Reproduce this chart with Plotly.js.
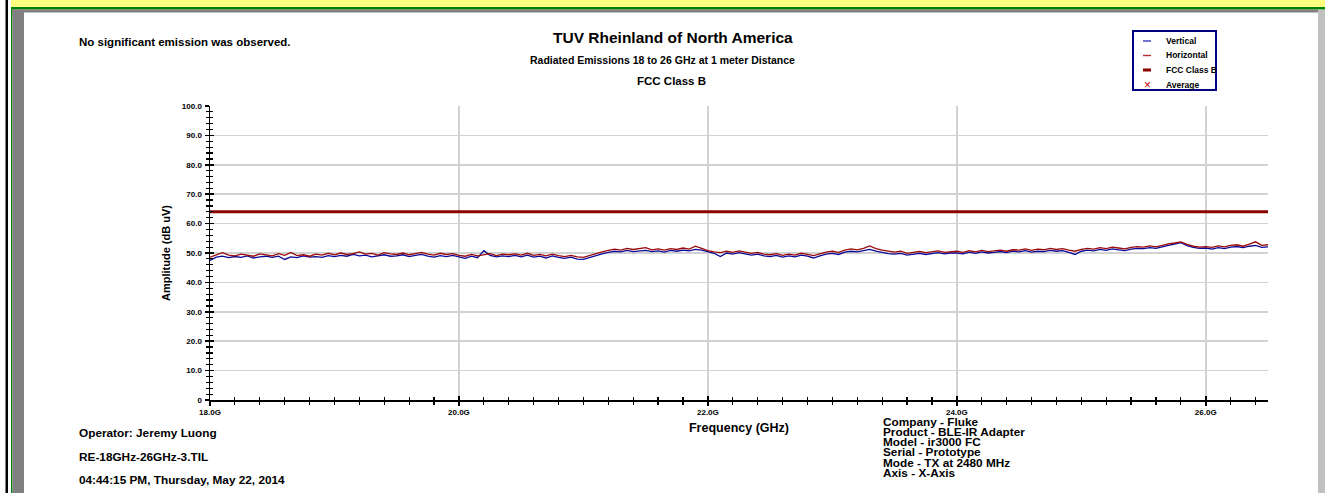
<!DOCTYPE html>
<html><head><meta charset="utf-8">
<script src="https://cdn.plot.ly/plotly-3.0.1.min.js"></script>
<style>html,body{margin:0;padding:0;background:#fff;}#chart{width:1325px;height:493px;}</style>
</head><body><div id="chart"></div>
<script>
// ---------------- data ----------------
const frequencyGHz = [
18.00,18.05,18.10,18.15,18.20,18.25,18.30,18.35,18.40,18.45,
18.50,18.55,18.60,18.65,18.70,18.75,18.80,18.85,18.90,18.95,
19.00,19.05,19.10,19.15,19.20,19.25,19.30,19.35,19.40,19.45,
19.50,19.55,19.60,19.65,19.70,19.75,19.80,19.85,19.90,19.95,
20.00,20.05,20.10,20.15,20.20,20.25,20.30,20.35,20.40,20.45,
20.50,20.55,20.60,20.65,20.70,20.75,20.80,20.85,20.90,20.95,
21.00,21.05,21.10,21.15,21.20,21.25,21.30,21.35,21.40,21.45,
21.50,21.55,21.60,21.65,21.70,21.75,21.80,21.85,21.90,21.95,
22.00,22.05,22.10,22.15,22.20,22.25,22.30,22.35,22.40,22.45,
22.50,22.55,22.60,22.65,22.70,22.75,22.80,22.85,22.90,22.95,
23.00,23.05,23.10,23.15,23.20,23.25,23.30,23.35,23.40,23.45,
23.50,23.55,23.60,23.65,23.70,23.75,23.80,23.85,23.90,23.95,
24.00,24.05,24.10,24.15,24.20,24.25,24.30,24.35,24.40,24.45,
24.50,24.55,24.60,24.65,24.70,24.75,24.80,24.85,24.90,24.95,
25.00,25.05,25.10,25.15,25.20,25.25,25.30,25.35,25.40,25.45,
25.50,25.55,25.60,25.65,25.70,25.75,25.80,25.85,25.90,25.95,
26.00,26.05,26.10,26.15,26.20,26.25,26.30,26.35,26.40,26.45,
26.50];

const horizontalDbuV = [
48.6,49.4,50.1,49.3,49.0,49.6,49.2,48.9,49.7,49.3,
49.0,49.8,49.2,50.2,49.1,49.4,48.9,49.6,49.3,49.9,
49.4,50.0,49.5,49.8,50.4,49.6,49.9,49.3,50.1,49.7,
49.5,50.0,49.4,49.8,50.2,49.6,49.3,49.9,49.5,49.8,
49.2,48.9,49.5,49.0,49.3,49.8,49.1,49.6,49.4,49.7,
49.3,49.9,49.2,49.5,49.0,49.6,49.1,48.8,49.2,48.7,
48.5,49.2,49.8,50.4,50.9,51.3,51.0,51.6,51.2,51.5,
51.8,51.1,51.4,51.0,51.5,51.2,51.7,51.3,52.3,51.6,
50.8,50.4,50.1,50.6,50.2,50.7,50.3,49.9,50.2,49.6,
49.4,49.8,49.2,49.6,49.3,49.9,49.5,49.1,49.7,50.3,
50.6,50.2,51.0,51.4,51.1,51.6,52.4,51.5,51.0,50.7,
50.3,50.6,49.9,50.2,50.5,50.1,50.4,50.7,50.2,50.5,
50.6,50.2,50.8,50.4,50.9,50.5,50.7,51.0,50.6,51.1,
51.0,51.4,50.9,51.3,51.1,51.6,51.2,51.5,51.0,50.6,
51.2,51.6,51.3,51.8,51.5,52.0,51.7,51.4,51.9,52.2,
52.0,52.4,52.1,52.7,53.1,53.4,53.8,52.9,52.3,52.0,
52.2,51.9,52.4,52.1,52.6,52.8,52.3,53.0,53.8,52.6,
52.8];

const verticalDbuV = [
47.5,48.6,48.9,48.4,48.8,48.5,49.0,48.3,48.7,48.9,
48.5,48.9,47.8,48.7,48.4,49.0,48.6,48.8,48.5,49.1,
48.8,49.2,48.9,49.5,49.0,49.3,48.7,49.1,49.4,48.9,
49.0,49.4,48.8,49.2,49.5,48.9,48.6,49.1,48.8,49.2,
48.6,48.2,48.9,48.4,50.8,49.2,48.7,49.0,48.8,49.2,
48.7,49.3,48.6,48.9,48.3,49.0,48.5,48.2,48.6,47.9,
47.8,48.5,49.1,49.7,50.2,50.6,50.4,50.9,50.5,50.8,
50.9,50.5,50.7,50.3,50.9,50.6,51.0,50.7,51.2,51.0,
50.5,49.9,48.8,50.0,49.6,50.1,49.7,49.3,49.6,49.0,
48.8,49.2,48.6,49.0,48.7,49.3,48.9,48.3,49.0,49.6,
49.9,49.5,50.3,50.6,50.4,50.8,51.2,50.6,50.1,49.8,
49.6,49.9,49.3,49.7,49.9,49.5,49.8,50.1,49.7,50.0,
50.0,49.7,50.3,49.9,50.4,50.0,50.2,50.5,50.1,50.6,
50.4,50.8,50.3,50.6,50.5,50.9,50.6,50.8,50.2,49.5,
50.6,51.0,50.7,51.2,50.9,51.4,51.1,50.8,51.3,51.6,
51.5,51.8,51.6,52.2,52.6,53.0,53.5,52.5,51.9,51.6,
51.7,51.3,51.8,51.5,52.0,52.2,51.8,52.3,52.6,51.9,
52.1];

const limitFreqGHz = [18.0, 26.5];
const fccClassBLimit = [64.0, 64.0];

const xTickVals = [18, 20, 22, 24, 26];
const xTickText = ['18.0G', '20.0G', '22.0G', '24.0G', '26.0G'];
const yTickVals = [0, 10, 20, 30, 40, 50, 60, 70, 80, 90, 100];
const yTickText = ['0', '10.0', '20.0', '30.0', '40.0', '50.0', '60.0', '70.0', '80.0', '90.0', '100.0'];

const seriesNames = ['Vertical', 'Horizontal', 'FCC Class B', 'Average'];
const titleLines = ['TUV Rheinland of North America', 'Radiated Emissions 18 to 26 GHz at 1 meter Distance', 'FCC Class B'];
const noteText = 'No significant emission was observed.';
const footerLeft = ['Operator: Jeremy Luong', 'RE-18GHz-26GHz-3.TIL', '04:44:15 PM, Thursday, May 22, 2014'];
const footerRight = ['Company - Fluke', 'Product - BLE-IR Adapter', 'Model - ir3000 FC', 'Serial - Prototype', 'Mode - TX at 2480 MHz', 'Axis - X-Axis'];
const xAxisTitle = 'Frequency (GHz)';
const yAxisTitle = 'Amplitude (dB uV)';

// ---------------- geometry helpers (pixels -> paper) ----------------
const W = 1325, H = 493, PL = 210, PR = 1268, PT = 106, PB = 400;
const px = x => (x - PL) / (PR - PL);
const py = y => (PB - y) / (PB - PT);
const FONT = 'Arial, "Liberation Sans", sans-serif';

const C_V = '#0a0a9a', C_H = '#9a0a0a', C_LIM = '#8b0000';

const traces = [
  {x: frequencyGHz, y: verticalDbuV, name: seriesNames[0], type: 'scatter', mode: 'lines',
   line: {color: C_V, width: 1.3}, hoverinfo: 'x+y'},
  {x: frequencyGHz, y: horizontalDbuV, name: seriesNames[1], type: 'scatter', mode: 'lines',
   line: {color: C_H, width: 1.3}, hoverinfo: 'x+y'},
  {x: limitFreqGHz, y: fccClassBLimit, name: seriesNames[2], type: 'scatter', mode: 'lines',
   line: {color: C_LIM, width: 3}},
  // empty trace carrying the overlay axes used for inward tick halves
  {x: [], y: [], xaxis: 'x2', yaxis: 'y2', showlegend: false, hoverinfo: 'skip', type: 'scatter'}
];

const rect = (x0, y0, x1, y1, fill, extra) => Object.assign({type: 'rect', xref: 'paper', yref: 'paper',
  x0: px(x0), x1: px(x1), y0: py(y0), y1: py(y1), fillcolor: fill, line: {width: 0}, layer: 'above'}, extra || {});
const hline = (x0, x1, y, color, width) => ({type: 'line', xref: 'paper', yref: 'paper',
  x0: px(x0), x1: px(x1), y0: py(y), y1: py(y), line: {color: color, width: width}, layer: 'above'});

const shapes = [
  rect(11, 0, 1325, 7, '#ffff80'),
  rect(11, 7, 1325, 9.5, '#008000'),
  rect(11, 7, 12.5, 493, '#008000'),
  rect(12.5, 9.5, 1318, 12.5, '#808080'),
  rect(12.5, 9.5, 24, 493, '#808080'),
  rect(1318, 10, 1325, 493, '#c0c0c0'),
  rect(5.5, 0, 8, 493, '#000000'),
  // legend box
  rect(1133, 31, 1216, 90, 'rgba(255,255,255,0)', {line: {color: '#000080', width: 2}}),
  hline(1143, 1151, 41, '#3535b5', 1.4),
  hline(1143, 1151, 55.5, '#b03535', 1.4),
  hline(1143, 1151, 70, C_LIM, 3)
];

const ann = (text, x, y, size, xanchor, extra) => Object.assign({text: '<b>' + text + '</b>', xref: 'paper', yref: 'paper',
  x: px(x), y: py(y), xanchor: xanchor || 'center', yanchor: 'middle', showarrow: false,
  font: {family: FONT, size: size, color: '#000'}}, extra || {});

const annotations = [
  ann(titleLines[0], 673, 38, 15.5, 'center'),
  ann(titleLines[1], 662, 60, 10.5, 'center'),
  ann(titleLines[2], 671, 81, 11.5, 'center'),
  ann(noteText, 77, 42, 11.5, 'left'),
  ann(footerLeft[0], 77, 433, 11.8, 'left'),
  ann(footerLeft[1], 77, 457, 11.8, 'left'),
  ann(footerLeft[2], 77, 480, 11.8, 'left'),
  ann(seriesNames[0], 1164, 41, 8.5, 'left'),
  ann(seriesNames[1], 1164, 55.5, 8.5, 'left'),
  ann(seriesNames[2], 1164, 70, 8.5, 'left'),
  ann(seriesNames[3], 1164, 85, 8.5, 'left'),
  {text: '×', xref: 'paper', yref: 'paper', x: px(1147), y: py(85), xanchor: 'center', yanchor: 'middle',
   showarrow: false, font: {family: FONT, size: 12, color: '#c00000'}}
];
const frY = [421.5, 431.8, 442.1, 452.4, 462.7, 473.2];
footerRight.forEach((t, i) => annotations.push(ann(t, 881, frY[i], 11.8, 'left')));

const tickFont = {family: FONT, size: 8, color: '#000', weight: 'bold'};

const layout = {
  width: W, height: H,
  margin: {l: PL, r: W - PR, t: PT, b: H - PB, pad: 0},
  paper_bgcolor: '#ffffff', plot_bgcolor: '#ffffff',
  showlegend: false,
  font: {family: FONT, color: '#000'},
  xaxis: {
    range: [18, 26.5], tickmode: 'array', tickvals: xTickVals, ticktext: xTickText,
    ticks: 'outside', ticklen: 4, tickwidth: 1.5, tickcolor: '#000',
    minor: {tickmode: 'linear', tick0: 18, dtick: 0.2, ticks: 'outside', ticklen: 3, tickwidth: 1.2, tickcolor: '#000', showgrid: false},
    showgrid: true, gridcolor: '#d2d2d2', gridwidth: 1.5,
    showline: true, linecolor: '#000', linewidth: 1.5, zeroline: false,
    tickfont: tickFont,
    title: {text: '<b>' + xAxisTitle + '</b>', font: {family: FONT, size: 12.5, color: '#000'}, standoff: 7},
    fixedrange: true
  },
  yaxis: {
    range: [0, 100], tickmode: 'array', tickvals: yTickVals, ticktext: yTickText,
    ticks: 'outside', ticklen: 4, tickwidth: 1.5, tickcolor: '#000',
    minor: {tickmode: 'linear', tick0: 0, dtick: 2, ticks: 'outside', ticklen: 3, tickwidth: 1.2, tickcolor: '#000', showgrid: false},
    showgrid: true, gridcolor: '#d2d2d2', gridwidth: 1.5,
    showline: true, linecolor: '#000', linewidth: 1.5, zeroline: false,
    tickfont: tickFont, ticklabelstandoff: 1,
    title: {text: '<b>' + yAxisTitle + '</b>', font: {family: FONT, size: 11, color: '#000'}, standoff: 9},
    fixedrange: true
  },
  xaxis2: {
    overlaying: 'x', anchor: 'y2', side: 'bottom', range: [18, 26.5],
    tickmode: 'array', tickvals: xTickVals, ticks: 'inside', ticklen: 4, tickwidth: 1.5, tickcolor: '#000',
    minor: {tickmode: 'linear', tick0: 18, dtick: 0.2, ticks: 'inside', ticklen: 3, tickwidth: 1.2, tickcolor: '#000'},
    showticklabels: false, showgrid: false, showline: false, zeroline: false, fixedrange: true
  },
  yaxis2: {
    overlaying: 'y', anchor: 'x2', side: 'left', range: [0, 100],
    tickmode: 'array', tickvals: yTickVals, ticks: 'inside', ticklen: 4, tickwidth: 1.5, tickcolor: '#000',
    minor: {tickmode: 'linear', tick0: 0, dtick: 2, ticks: 'inside', ticklen: 3, tickwidth: 1.2, tickcolor: '#000'},
    showticklabels: false, showgrid: false, showline: false, zeroline: false, fixedrange: true
  },
  shapes: shapes,
  annotations: annotations
};

Plotly.newPlot('chart', traces, layout, {displayModeBar: false, staticPlot: true});
</script>
</body></html>
